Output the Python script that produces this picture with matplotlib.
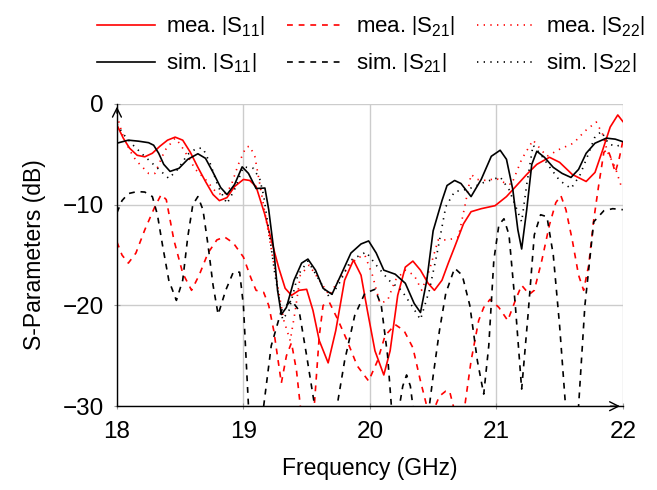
import matplotlib
matplotlib.use("Agg")
import matplotlib.pyplot as plt

plt.rcParams['font.family'] = ['Liberation Sans', 'DejaVu Sans']
plt.rcParams['mathtext.fontset'] = 'custom'
plt.rcParams['mathtext.rm'] = 'Liberation Sans'
plt.rcParams['mathtext.it'] = 'Liberation Sans:italic'
plt.rcParams['font.size'] = 16

# measured |S11|
mea_s11_f = [18.00, 18.05, 18.10, 18.16, 18.22, 18.28, 18.34, 18.40, 18.46, 18.52,
             18.58, 18.64, 18.70, 18.76, 18.81, 18.87, 18.93, 19.00, 19.05, 19.10,
             19.17, 19.22, 19.28, 19.33, 19.38, 19.44, 19.50, 19.55, 19.60, 19.67,
             19.73, 19.80, 19.87, 19.93, 19.98, 20.04, 20.11, 20.16, 20.22, 20.28,
             20.34, 20.40, 20.46, 20.51, 20.57, 20.62, 20.67, 20.74, 20.80, 20.88,
             20.99, 21.08, 21.16, 21.24, 21.32, 21.42, 21.50, 21.60, 21.71, 21.78,
             21.84, 21.90, 21.96, 22.00]
mea_s11 = [-2.1, -3.4, -4.4, -5.1, -5.25, -4.9, -4.2, -3.6, -3.3, -3.6,
           -4.8, -6.3, -7.7, -9.0, -9.6, -9.3, -8.2, -7.5, -7.6, -8.2,
           -11.0, -13.5, -16.3, -18.3, -19.0, -18.5, -18.4, -20.5, -23.5, -25.7,
           -22.5, -17.5, -15.5, -17.0, -20.5, -24.5, -26.9, -24.5, -19.0, -16.2,
           -15.6, -16.5, -17.8, -18.5, -17.5, -15.8, -14.2, -11.9, -10.7, -10.4,
           -10.1, -9.2, -8.1, -7.0, -6.0, -5.3, -5.8, -7.0, -7.7, -6.8,
           -4.6, -2.3, -1.1, -1.75]

# measured |S21|
mea_s21_f = [18.00, 18.04, 18.09, 18.15, 18.22, 18.30, 18.35, 18.39, 18.45, 18.52,
             18.59, 18.65, 18.72, 18.79, 18.85, 18.92, 19.00, 19.06, 19.10, 19.16,
             19.20, 19.24, 19.30, 19.34, 19.38, 19.42, 19.45, 19.50, 19.56, 19.60,
             19.63, 19.68, 19.75, 19.82, 19.90, 19.99, 20.06, 20.12, 20.20, 20.27,
             20.34, 20.40, 20.45, 20.50, 20.55, 20.60, 20.63, 20.66, 20.70, 20.75,
             20.80, 20.86, 20.90, 20.95, 21.02, 21.09, 21.15, 21.20, 21.26, 21.30,
             21.36, 21.42, 21.47, 21.51, 21.55, 21.60, 21.65, 21.69, 21.73, 21.77,
             21.81, 21.85, 21.88, 21.91, 21.94, 21.97, 22.00]
mea_s21 = [-13.7, -15.0, -15.8, -14.8, -12.5, -10.2, -9.0, -9.5, -13.5, -16.8,
           -18.5, -17.0, -14.8, -13.5, -13.2, -13.8, -15.2, -17.3, -18.5, -18.7,
           -20.0, -22.5, -27.7, -25.0, -23.7, -26.5, -30.0, -32.0, -30.0, -23.0,
           -20.0, -19.7, -21.5, -23.5, -26.0, -27.5, -25.5, -23.0, -21.9, -22.5,
           -24.2, -27.5, -30.0, -30.5, -29.0, -28.5, -28.5, -30.0, -32.0, -30.0,
           -25.5, -21.5, -20.2, -19.4, -20.2, -21.5, -19.5, -18.0, -18.9, -18.5,
           -15.5, -12.0, -9.8, -9.1, -10.5, -13.5, -17.0, -18.5, -16.0, -11.5,
           -8.0, -4.8, -4.5, -5.5, -6.8, -5.5, -3.7]

# measured |S22|
mea_s22_f = [18.00, 18.04, 18.10, 18.15, 18.20, 18.25, 18.30, 18.38, 18.46, 18.50,
             18.55, 18.62, 18.70, 18.78, 18.84, 18.90, 18.96, 19.02, 19.05, 19.09,
             19.13, 19.18, 19.22, 19.27, 19.32, 19.37, 19.41, 19.45, 19.52, 19.60,
             19.68, 19.75, 19.82, 19.90, 19.96, 20.02, 20.08, 20.14, 20.20, 20.28,
             20.35, 20.41, 20.47, 20.54, 20.62, 20.70, 20.75, 20.80, 20.85, 20.92,
             21.00, 21.06, 21.12, 21.20, 21.29, 21.35, 21.40, 21.50, 21.61, 21.70,
             21.79, 21.84, 21.88, 21.94, 21.98, 22.00]
mea_s22 = [-1.1, -2.9, -4.6, -5.6, -6.25, -6.9, -6.9, -4.6, -3.4, -4.0,
           -5.0, -6.5, -7.5, -8.7, -9.1, -8.2, -6.0, -4.3, -4.2, -5.2,
           -8.0, -11.5, -14.4, -18.0, -21.5, -23.5, -20.5, -17.0, -16.0, -17.5,
           -19.0, -17.5, -16.3, -15.3, -15.0, -17.0, -19.8, -19.5, -17.5, -16.5,
           -17.0, -18.5, -16.5, -13.5, -13.5, -13.2, -10.2, -7.0, -7.5, -7.6,
           -7.4, -7.8, -8.0, -5.5, -3.6, -4.5, -5.2, -4.5, -3.9, -2.7,
           -1.8, -3.0, -4.8, -6.3, -7.9, -8.5]

# simulated |S11|
sim_s11_f = [18.00, 18.09, 18.17, 18.25, 18.29, 18.33, 18.37, 18.42, 18.49, 18.56,
             18.64, 18.70, 18.76, 18.82, 18.87, 18.93, 18.99, 19.04, 19.10, 19.17,
             19.20, 19.24, 19.27, 19.30, 19.34, 19.40, 19.46, 19.51, 19.57, 19.63,
             19.70, 19.77, 19.85, 19.93, 19.99, 20.05, 20.11, 20.20, 20.28, 20.35,
             20.40, 20.45, 20.50, 20.57, 20.61, 20.67, 20.72, 20.80, 20.88, 20.96,
             21.03, 21.08, 21.13, 21.17, 21.20, 21.24, 21.28, 21.32, 21.38, 21.45,
             21.52, 21.59, 21.65, 21.71, 21.78, 21.87, 21.94, 22.00]
sim_s11 = [-3.9, -3.6, -3.7, -3.85, -4.1, -4.9, -6.0, -6.7, -6.4, -5.5,
           -4.95, -5.4, -6.8, -8.3, -9.0, -8.0, -6.25, -6.9, -8.4, -8.35,
           -10.5, -14.5, -18.5, -20.9, -20.2, -17.5, -15.8, -15.4, -16.5, -18.3,
           -18.9, -17.0, -14.8, -13.9, -13.6, -14.8, -16.5, -16.9, -17.8, -19.8,
           -20.7, -17.5, -12.6, -9.6, -8.1, -7.6, -7.9, -9.2, -7.5, -5.2,
           -4.6, -5.5, -8.5, -12.5, -14.4, -10.5, -6.0, -4.7, -5.3, -6.3,
           -6.9, -7.3, -6.5, -4.9, -3.9, -3.4, -3.5, -3.75]

# simulated |S21|
sim_s21_f = [18.00, 18.04, 18.09, 18.16, 18.22, 18.28, 18.32, 18.36, 18.41, 18.47,
             18.52, 18.56, 18.60, 18.64, 18.68, 18.72, 18.76, 18.80, 18.86, 18.92,
             18.97, 19.00, 19.04, 19.10, 19.16, 19.22, 19.30, 19.38, 19.44, 19.50,
             19.57, 19.65, 19.74, 19.80, 19.88, 19.96, 20.04, 20.09, 20.14, 20.17,
             20.22, 20.26, 20.29, 20.32, 20.34, 20.40, 20.47, 20.50, 20.55, 20.60,
             20.67, 20.73, 20.79, 20.85, 20.90, 20.94, 20.98, 21.02, 21.06, 21.10,
             21.15, 21.20, 21.25, 21.30, 21.35, 21.40, 21.45, 21.50, 21.55, 21.60,
             21.65, 21.70, 21.77, 21.85, 21.92, 22.00]
sim_s21 = [-10.8, -9.6, -8.9, -8.7, -8.75, -9.2, -11.0, -14.0, -17.5, -19.5,
           -17.5, -13.2, -10.0, -9.2, -10.5, -14.0, -18.0, -20.9, -18.5, -16.7,
           -16.7, -20.0, -30.0, -33.0, -30.0, -24.0, -20.5, -19.5, -20.5, -25.0,
           -30.5, -33.0, -30.0, -25.5, -21.0, -18.8, -18.4, -20.0, -25.0, -30.0,
           -31.0, -28.0, -26.9, -28.0, -30.0, -32.0, -30.0, -27.0, -22.5, -18.8,
           -16.3, -17.0, -20.0, -25.5, -28.8, -24.0, -15.5, -12.0, -11.4, -13.0,
           -20.0, -28.3, -21.0, -13.0, -11.0, -11.2, -15.0, -22.0, -30.5, -33.0,
           -30.0, -20.0, -11.7, -10.6, -10.4, -10.5]

# simulated |S22|
sim_s22_f = [18.00, 18.05, 18.12, 18.21, 18.31, 18.41, 18.48, 18.56, 18.63, 18.68,
             18.74, 18.80, 18.87, 18.93, 19.00, 19.08, 19.13, 19.16, 19.20, 19.25,
             19.31, 19.36, 19.43, 19.51, 19.60, 19.68, 19.75, 19.85, 19.97, 20.05,
             20.15, 20.25, 20.33, 20.40, 20.47, 20.53, 20.60, 20.67, 20.72, 20.79,
             20.90, 21.03, 21.10, 21.16, 21.20, 21.24, 21.29, 21.35, 21.42, 21.50,
             21.59, 21.66, 21.73, 21.78, 21.83, 21.89, 21.95, 22.00]
sim_s22 = [-2.0, -3.0, -4.0, -5.1, -6.25, -7.4, -6.5, -5.0, -4.4, -4.4,
           -6.0, -8.2, -9.9, -8.5, -6.25, -6.4, -7.5, -9.1, -12.5, -17.0,
           -21.4, -20.5, -17.0, -15.6, -17.5, -19.2, -18.0, -15.5, -14.7, -16.0,
           -17.5, -18.5, -20.0, -21.4, -18.5, -14.9, -10.2, -8.7, -8.6, -8.4,
           -7.8, -7.25, -8.5, -10.4, -11.7, -8.0, -4.1, -5.0, -6.25, -7.6,
           -8.4, -7.1, -4.9, -3.25, -2.75, -4.0, -4.2, -4.0]

x_ticks = [18, 19, 20, 21, 22]
y_ticks = [-30, -20, -10, 0]


def lbl(kind, idx):
    return r'%s $\left|\mathrm{S}_{%s}\right|$' % (kind, idx)


fig = plt.figure(figsize=(6.57, 4.9), dpi=100)
ax = fig.add_axes([0.178, 0.171, 0.770, 0.617])

dash = (0, (3.5, 3.5))
dot = (0, (0.8, 3.2))
lw = 1.2
ax.plot(mea_s11_f, mea_s11, color='red', lw=lw, label=lbl('mea.', '11'))
ax.plot(mea_s21_f, mea_s21, color='red', lw=lw, linestyle=dash, label=lbl('mea.', '21'))
ax.plot(mea_s22_f, mea_s22, color='red', lw=lw, linestyle=dot, label=lbl('mea.', '22'))
ax.plot(sim_s11_f, sim_s11, color='black', lw=lw, label=lbl('sim.', '11'))
ax.plot(sim_s21_f, sim_s21, color='black', lw=lw, linestyle=dash, label=lbl('sim.', '21'))
ax.plot(sim_s22_f, sim_s22, color='black', lw=lw, linestyle=dot, label=lbl('sim.', '22'))

ax.set_xlim(18, 22)
ax.set_ylim(-30, 0)
ax.set_xticks(x_ticks)
ax.set_yticks(y_ticks)
ax.grid(True, color='#cccccc', lw=1.0)
ax.set_axisbelow(True)
ax.tick_params(direction='inout', length=5, color='#999999', width=0.8,
               labelsize=17.5)
ax.tick_params(axis='x', pad=8)
ax.tick_params(axis='y', pad=7)
for s in ['top', 'right']:
    ax.spines[s].set_visible(False)
for s in ['left', 'bottom']:
    ax.spines[s].set_linewidth(1.0)

# arrow heads on the axis lines
ax.annotate('', xy=(1.0, 0), xytext=(0.97, 0), xycoords='axes fraction',
            arrowprops=dict(arrowstyle='->', color='black', lw=1.0, mutation_scale=16))
ax.annotate('', xy=(0, 1.0), xytext=(0, 0.96), xycoords='axes fraction',
            arrowprops=dict(arrowstyle='->', color='black', lw=1.0, mutation_scale=16))

ax.set_xlabel('Frequency (GHz)', fontsize=16.5, labelpad=10)
ax.set_ylabel('S-Parameters (dB)', fontsize=16.5, labelpad=12)

# legend: three columns, measured on the first row, simulated on the second
h, l = ax.get_legend_handles_labels()
order = [0, 3, 1, 4, 2, 5]
fig.legend([h[i] for i in order], [l[i] for i in order], loc='upper center',
           bbox_to_anchor=(0.565, 1.01), ncol=3, frameon=False, handlelength=2.6,
           handletextpad=0.5, columnspacing=1.0, labelspacing=0.6)

fig.savefig('out.png', dpi=100)
